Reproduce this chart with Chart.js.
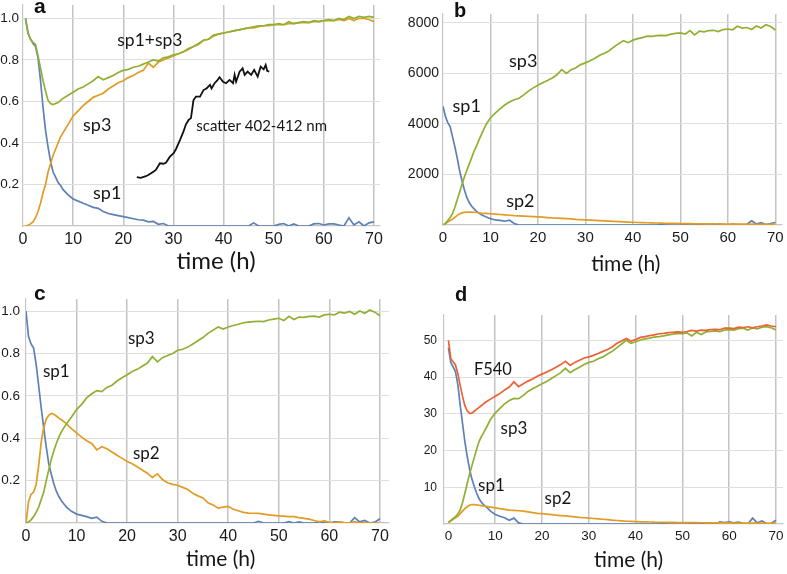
<!DOCTYPE html>
<html>
<head>
<meta charset="utf-8">
<script src="https://cdn.jsdelivr.net/npm/chart.js@4.4.1/dist/chart.umd.min.js"></script>
<style>
  body { margin: 0; background: #fff; }
  #page { position: relative; width: 787px; height: 574px; overflow: hidden; background: #fff; }
  #page canvas { position: absolute; }
  .tag { position: absolute; line-height: 1; font-family: "Liberation Sans", Arial, sans-serif; font-weight: bold; color: #111; }
</style>
</head>
<body>
<div id="page">
  <canvas id="chart-a" width="390" height="285" style="left:0;top:0"></canvas>
  <canvas id="chart-b" width="397" height="285" style="left:390px;top:0"></canvas>
  <canvas id="chart-c" width="390" height="289" style="left:0;top:285px"></canvas>
  <canvas id="chart-d" width="397" height="289" style="left:390px;top:285px"></canvas>
  <div class="tag" style="left:34px;top:-5px;font-size:21px">a</div>
  <div class="tag" style="left:454px;top:0;font-size:20px">b</div>
  <div class="tag" style="left:34px;top:282px;font-size:21px">c</div>
  <div class="tag" style="left:455px;top:284px;font-size:20px">d</div>
</div>
<script>
// sampling times (h): every 0.5 h up to 8 h, then hourly
const hours = [0, 0.5, 1, 1.5, 2, 2.5, 3, 3.5, 4, 4.5, 5, 5.5, 6, 6.5, 7, 7.5, 8,
  9, 10, 11, 12, 13, 14, 15, 16, 17, 18,
  19, 20, 21, 22, 23, 24, 25, 26, 27, 28,
  29, 30, 31, 32, 33, 34, 35, 36, 37, 38,
  39, 40, 41, 42, 43, 44, 45, 46, 47, 48,
  49, 50, 51, 52, 53, 54, 55, 56, 57, 58,
  59, 60, 61, 62, 63, 64, 65, 66, 67, 68,
  69, 70]

const timeTicks = [0, 10, 20, 30, 40, 50, 60, 70]
const fractionTicks = [0.2, 0.4, 0.6, 0.8, 1.0]
const countTicks = [2000, 4000, 6000, 8000]
const f540Ticks = [10, 20, 30, 40, 50]

// panel a
const aSum = [null, 1.0, 0.93, 0.90, 0.885, 0.875, 0.82, 0.76, 0.70, 0.65, 0.605, 0.59, 0.585, 0.59, 0.595, 0.605, 0.615,
  0.63, 0.645, 0.66, 0.67, 0.685, 0.70, 0.72, 0.705, 0.715, 0.725,
  0.74, 0.75, 0.755, 0.765, 0.77, 0.78, 0.79, 0.80, 0.795, 0.81,
  0.815, 0.825, 0.83, 0.84, 0.855, 0.865, 0.88, 0.895, 0.90, 0.92,
  0.925, 0.93, 0.935, 0.94, 0.945, 0.95, 0.955, 0.96, 0.965, 0.965,
  0.97, 0.97, 0.975, 0.97, 0.985, 0.975, 0.98, 0.985, 0.98, 0.99,
  0.985, 0.99, 0.995, 0.99, 1.0, 0.995, 1.01, 1.0, 1.01, 1.005,
  1.01, 1.005]
const aSp3 = [null, 0, 0.003, 0.01, 0.02, 0.04, 0.07, 0.11, 0.16, 0.2, 0.26, 0.3, 0.34, 0.37, 0.4, 0.43, 0.45,
  0.49, 0.53, 0.555, 0.58, 0.6, 0.62, 0.63, 0.64, 0.66, 0.675,
  0.69, 0.7, 0.715, 0.725, 0.74, 0.75, 0.785, 0.765, 0.79, 0.8,
  0.81, 0.82, 0.83, 0.84, 0.85, 0.865, 0.875, 0.895, 0.9, 0.915,
  0.925, 0.93, 0.935, 0.94, 0.945, 0.95, 0.955, 0.955, 0.96, 0.965,
  0.965, 0.97, 0.97, 0.97, 0.975, 0.975, 0.98, 0.98, 0.98, 0.985,
  0.985, 0.99, 0.99, 0.99, 0.995, 0.99, 1.0, 0.99, 1.0, 1.0,
  0.995, 0.985]
const aSp1 = [null, 1.0, 0.93, 0.9, 0.88, 0.865, 0.81, 0.7, 0.57, 0.46, 0.38, 0.31, 0.26, 0.235, 0.21, 0.195, 0.175,
  0.15, 0.13, 0.12, 0.11, 0.1, 0.09, 0.085, 0.07, 0.06, 0.055,
  0.05, 0.045, 0.04, 0.035, 0.03, 0.028, 0.02, 0.022, 0.008, 0.012,
  0, 0, 0, 0, 0, 0, 0, 0, 0, 0,
  0, 0, 0, 0, 0, 0, 0, 0.015, 0, 0,
  0, 0, 0.008, 0.012, 0, 0.01, 0, 0, 0, 0.01,
  0.012, 0.005, 0.01, 0.01, 0.005, 0, 0.04, 0.005, 0.02, 0,
  0.015, 0.02]
const scatterHours = [22.7, 23.5, 24.5, 25, 26, 26.5, 27.3, 28, 28.5, 29.3, 30, 30.5, 31.3, 32, 32.5, 33, 33.5,
  34, 34.5, 35.3, 36, 36.6, 37.3, 37.6, 38.2, 38.7, 39.2, 39.9, 40.5, 41.2, 41.9, 42.2, 42.5,
  43.2, 43.8, 44.2, 44.8, 45.5, 46.1, 46.8, 47.4, 48, 48.4, 48.7, 49.1]
const aScatter = [0.235, 0.232, 0.24, 0.246, 0.262, 0.27, 0.302, 0.3, 0.305, 0.334, 0.35, 0.37, 0.414, 0.455, 0.49, 0.51, 0.52,
  0.607, 0.623, 0.623, 0.655, 0.663, 0.68, 0.663, 0.688, 0.7, 0.717, 0.695, 0.688, 0.704, 0.688, 0.728, 0.695,
  0.744, 0.76, 0.728, 0.744, 0.728, 0.752, 0.72, 0.768, 0.755, 0.776, 0.748, 0.744]

// panel b
const bSp1 = [4700, 4300, 4050, 3900, 3500, 3100, 2650, 2150, 1750, 1400, 1100, 900, 750, 650, 550, 480, 420,
  330, 250, 200, 180, 150, 190, 60, 0, 0, 0,
  0, 0, 0, 0, 0, 0, 0, 0, 0, 0,
  0, 0, 0, 0, 0, 0, 0, 0, 0, 0,
  0, 0, 0, 0, 0, 0, 0, 20, 0, 0,
  0, 0, 20, 0, 0, 20, 0, 0, 0, 40,
  30, 0, 40, 20, 0, 30, 170, 40, 90, 20,
  60, 100]
const bSp2 = [0, 40, 120, 180, 230, 300, 380, 440, 480, 500, 510, 515, 510, 505, 495, 485, 475,
  460, 445, 430, 415, 400, 385, 370, 360, 350, 340,
  330, 320, 310, 295, 280, 270, 260, 250, 240, 225,
  215, 205, 195, 185, 175, 165, 155, 145, 135, 125,
  115, 108, 100, 95, 90, 85, 80, 75, 70, 66,
  62, 58, 55, 52, 50, 48, 46, 44, 42, 40,
  38, 36, 35, 34, 33, 32, 31, 30, 30, 29,
  28, 28]
const bSp3 = [0, 60, 180, 300, 450, 700, 1000, 1300, 1600, 1900, 2150, 2400, 2650, 2900, 3100, 3330, 3550,
  3950, 4250, 4430, 4600, 4750, 4870, 4960, 5020, 5150, 5300,
  5430, 5530, 5630, 5720, 5820, 5950, 6150, 6000, 6150, 6230,
  6350, 6420, 6500, 6600, 6720, 6800, 6900, 7050, 7180, 7300,
  7220, 7320, 7380, 7420, 7480, 7470, 7500, 7510, 7500, 7560,
  7590, 7610, 7560, 7700, 7530, 7680, 7650, 7700, 7710, 7660,
  7740, 7760, 7730, 7870, 7800, 7820, 7740, 7880, 7800, 7930,
  7860, 7720]

// panel c
const cSp1 = [1.0, 0.88, 0.845, 0.825, 0.75, 0.65, 0.545, 0.45, 0.36, 0.28, 0.23, 0.185, 0.15, 0.125, 0.105, 0.09, 0.075,
  0.055, 0.042, 0.036, 0.03, 0.022, 0.028, 0.008, 0, 0, 0,
  0, 0, 0, 0, 0, 0, 0, 0, 0, 0,
  0, 0, 0, 0, 0, 0, 0, 0, 0, 0,
  0, 0, 0, 0, 0, 0, 0, 0.008, 0, 0,
  0, 0, 0, 0.006, 0, 0.005, 0, 0, 0, 0.006,
  0, 0, 0.005, 0.004, 0, 0, 0.025, 0.005, 0.012, 0,
  0.004, 0.02]
const cSp2 = [0, 0.1, 0.135, 0.145, 0.18, 0.27, 0.38, 0.45, 0.49, 0.508, 0.517, 0.513, 0.505, 0.495, 0.487, 0.478, 0.468,
  0.445, 0.425, 0.405, 0.388, 0.375, 0.345, 0.36, 0.35, 0.335, 0.32,
  0.305, 0.29, 0.28, 0.265, 0.25, 0.235, 0.215, 0.232, 0.205, 0.19,
  0.182, 0.178, 0.168, 0.158, 0.14, 0.128, 0.118, 0.095, 0.085, 0.07,
  0.075, 0.078, 0.065, 0.058, 0.05, 0.047, 0.046, 0.045, 0.042, 0.038,
  0.036, 0.034, 0.032, 0.03, 0.03, 0.025, 0.022, 0.018, 0.012, 0.006,
  0.01, 0.003, 0, 0.005, 0.002, 0, 0.006, 0, 0.003, 0,
  0, 0]
const cSp3 = [0, 0.005, 0.015, 0.03, 0.05, 0.075, 0.11, 0.145, 0.2, 0.25, 0.3, 0.34, 0.375, 0.405, 0.43, 0.45, 0.467,
  0.5, 0.535, 0.56, 0.59, 0.61, 0.625, 0.62, 0.64, 0.65, 0.67,
  0.685, 0.7, 0.715, 0.725, 0.74, 0.755, 0.785, 0.76, 0.78, 0.79,
  0.8, 0.815, 0.82, 0.83, 0.845, 0.86, 0.875, 0.895, 0.91, 0.925,
  0.915, 0.925, 0.932, 0.938, 0.945, 0.948, 0.95, 0.952, 0.95, 0.958,
  0.962, 0.966, 0.955, 0.975, 0.96, 0.972, 0.97, 0.975, 0.976, 0.972,
  0.982, 0.985, 0.982, 0.995, 0.99, 0.998, 0.985, 1.0, 0.99, 1.005,
  0.995, 0.978]

// panel d
const dF540 = [50, 45, 44.2, 43.3, 41, 37.8, 34.8, 32.3, 30.8, 30.1, 30.2, 30.7, 31.2, 31.7, 32.2, 32.7, 33.2,
  34, 34.8, 35.5, 36.5, 37.3, 38.7, 37.4, 38.2, 38.9, 39.5,
  40.2, 40.8, 41.4, 42, 42.7, 43.4, 44.3, 43.2, 44, 44.6,
  45.2, 45.5, 45.9, 46.4, 47, 47.5, 48.2, 49.2, 49.8, 50.5,
  49.8, 50.2, 50.8, 51, 51.3, 51.5, 51.8, 51.9, 52.1, 52.2,
  52.3, 52.2, 52.4, 52.7, 52.5, 52.8, 52.7, 52.9, 53, 52.9,
  53.3, 53.3, 53.2, 53.6, 53.5, 53.7, 53.4, 53.7, 53.9, 54.2,
  53.9, 53.7]
const dSp3 = [0.5, 1, 1.5, 2, 2.7, 3.8, 5.8, 8.3, 11, 13.5, 15.8, 18, 20.3, 22.3, 23.7, 24.8, 26,
  28.5, 30.2, 31.5, 32.7, 33.6, 34.2, 34.1, 35, 36.1, 36.8,
  37.5, 38.2, 38.8, 39.6, 40.4, 41.2, 42.4, 41.2, 42, 42.7,
  43.4, 44, 44.3, 45, 45.5, 46.3, 47, 48, 49, 50,
  49.2, 49.6, 50.1, 50.4, 50.6, 50.9, 51, 51.2, 51.5, 51.7,
  51.9, 51.8, 52, 51.2, 52.2, 51.6, 52.3, 52.4, 52.6, 52.4,
  52.8, 52.9, 52.8, 53.2, 53.3, 52.8, 53.4, 53.1, 53.6, 53.7,
  53.4, 52.8]
const dSp1 = [48, 44, 42.8, 41.5, 38, 32.5, 27.5, 22.5, 18.5, 15, 12.3, 10.3, 8.5, 7, 6, 5.3, 4.7,
  3.5, 2.6, 2.1, 1.7, 1, 1.6, 0.3, 0, 0, 0,
  0, 0, 0, 0, 0, 0, 0, 0, 0, 0,
  0, 0, 0, 0, 0, 0, 0, 0, 0, 0,
  0, 0, 0, 0, 0, 0, 0, 0.2, 0, 0,
  0, 0, 0, 0.2, 0, 0.2, 0, 0, 0, 0.6,
  0.4, 0.6, 0.3, 0.5, 0.2, 0, 1.6, 0.3, 0.8, 0.1,
  0.2, 1]
const dSp2 = [0.3, 0.8, 1.3, 1.7, 2.1, 2.8, 3.5, 4.2, 4.7, 5.1, 5.3, 5.3, 5.2, 5.1, 5, 4.9, 4.8,
  4.6, 4.4, 4.2, 4, 3.8, 3.7, 3.6, 3.5, 3.3, 3.1,
  2.9, 2.8, 2.7, 2.55, 2.4, 2.3, 2.2, 2.1, 1.95, 1.8,
  1.7, 1.6, 1.5, 1.4, 1.3, 1.2, 1.05, 0.95, 0.85, 0.75,
  0.7, 0.65, 0.6, 0.58, 0.55, 0.5, 0.48, 0.45, 0.43, 0.42,
  0.4, 0.38, 0.37, 0.36, 0.35, 0.34, 0.33, 0.32, 0.31, 0.3,
  0.29, 0.28, 0.27, 0.26, 0.25, 0.24, 0.23, 0.22, 0.21, 0.2,
  0.2, 0.2]

const BLUE = '#5e81b5'
const ORANGE = '#e19c24'
const GREEN = '#8fb032'
const RED = '#eb6235'
const TICK_FONT = '"Liberation Sans", Arial, sans-serif'
const NOTE_FONT = 'Lato, "Open Sans", sans-serif'

// labels next to the curves and the x axis title
const notesPlugin = {
  id: 'notes',
  afterDatasetsDraw(chart, args, opts) {
    const { ctx, chartArea, scales: { x, y } } = chart
    ctx.save()
    ctx.fillStyle = '#161616'
    ctx.textAlign = 'center'
    ctx.textBaseline = 'middle'
    opts.items.forEach(n => {
      ctx.font = `${n.size}px ${NOTE_FONT}`
      ctx.fillText(n.text, x.getPixelForValue(n.t), y.getPixelForValue(n.v))
    })
    ctx.font = `${opts.titleSize}px ${NOTE_FONT}`
    ctx.fillText('time (h)', x.getPixelForValue(38.5), chartArea.bottom + opts.titleOffset)
    ctx.restore()
  }
}

function line(xs, ys, color, width) {
  return {
    data: xs.map((h, i) => ({ x: h, y: ys[i] })),
    borderColor: color,
    borderWidth: width || 1.7,
    pointRadius: 0,
    tension: 0,
    fill: false
  }
}

function makeChart(id, p) {
  return new Chart(document.getElementById(id), {
    type: 'line',
    data: { datasets: p.datasets },
    options: {
      responsive: false,
      animation: false,
      events: [],
      layout: { padding: p.padding },
      plugins: {
        legend: { display: false },
        tooltip: { enabled: false },
        notes: { items: p.notes, titleSize: p.titleSize, titleOffset: p.titleOffset }
      },
      scales: {
        x: {
          type: 'linear',
          min: p.xMin,
          max: p.xMax,
          afterBuildTicks: s => { s.ticks = timeTicks.map(v => ({ value: v })) },
          afterFit: s => { s.height = p.xHeight; s.paddingLeft = 0; s.paddingRight = 0 },
          ticks: { autoSkip: false, maxRotation: 0, padding: 4, color: '#1a1a1a',
            font: { family: TICK_FONT, size: p.xFont }, callback: v => String(v) },
          grid: { drawTicks: false, lineWidth: 1.5,
            color: c => (c.tick && c.tick.value === 0 ? 'rgba(0,0,0,0)' : '#c3c3c3') },
          border: { color: '#c6c6c6', width: 1.2 }
        },
        y: {
          min: 0,
          max: p.yMax,
          afterBuildTicks: s => { s.ticks = p.yTicks.map(v => ({ value: v })) },
          afterFit: s => { s.width = p.yWidth; s.paddingTop = 0; s.paddingBottom = 0 },
          ticks: { autoSkip: false, padding: p.yPad, color: '#1a1a1a',
            font: { family: TICK_FONT, size: p.yFont }, callback: p.yLabel },
          grid: { drawTicks: false, lineWidth: 1, color: '#dedede' },
          border: { color: '#c6c6c6', width: 1.2 }
        }
      }
    },
    plugins: [notesPlugin]
  })
}

makeChart('chart-a', {
  datasets: [
    line(scatterHours, aScatter, '#111111', 1.8),
    line(hours, aSum, GREEN),
    line(hours, aSp3, ORANGE),
    line(hours, aSp1, BLUE)
  ],
  padding: { left: 0, top: 5, right: 10, bottom: 0 },
  xMin: 0, xMax: 71.2, xHeight: 59, xFont: 16,
  yMax: 1.065, yTicks: fractionTicks, yWidth: 23, yPad: 4, yFont: 13.5,
  yLabel: v => v.toFixed(1),
  titleSize: 24, titleOffset: 35,
  notes: [
    { text: 'sp1+sp3', t: 25.3, v: 0.893, size: 17.5 },
    { text: 'sp3', t: 14.8, v: 0.487, size: 18 },
    { text: 'sp1', t: 16.8, v: 0.158, size: 18 },
    { text: 'scatter 402-412 nm', t: 47.6, v: 0.479, size: 15 }
  ]
})

makeChart('chart-b', {
  datasets: [
    line(hours, bSp3, GREEN),
    line(hours, bSp2, ORANGE),
    line(hours, bSp1, BLUE)
  ],
  padding: { left: 0, top: 14, right: 5, bottom: 0 },
  xMin: 0, xMax: 71.4, xHeight: 60, xFont: 15,
  yMax: 8355, yTicks: countTicks, yWidth: 53, yPad: 4, yFont: 14,
  yLabel: v => String(v),
  titleSize: 21, titleOffset: 39,
  notes: [
    { text: 'sp3', t: 16.9, v: 6469, size: 18 },
    { text: 'sp1', t: 5.0, v: 4690, size: 18 },
    { text: 'sp2', t: 16.3, v: 933, size: 18 }
  ]
})

makeChart('chart-c', {
  datasets: [
    line(hours, cSp3, GREEN),
    line(hours, cSp2, ORANGE),
    line(hours, cSp1, BLUE)
  ],
  padding: { left: 0, top: 14, right: 1, bottom: 0 },
  xMin: 0, xMax: 71.8, xHeight: 51, xFont: 16,
  yMax: 1.057, yTicks: fractionTicks, yWidth: 26, yPad: 6, yFont: 13.5,
  yLabel: v => v.toFixed(1),
  titleSize: 21, titleOffset: 36,
  notes: [
    { text: 'sp3', t: 22.8, v: 0.871, size: 17 },
    { text: 'sp1', t: 6.0, v: 0.713, size: 17 },
    { text: 'sp2', t: 23.8, v: 0.328, size: 17 }
  ]
})

makeChart('chart-d', {
  datasets: [
    line(hours, dF540, RED),
    line(hours, dSp3, GREEN),
    line(hours, dSp2, ORANGE),
    line(hours, dSp1, BLUE)
  ],
  padding: { left: 0, top: 30, right: 4, bottom: 0 },
  xMin: -0.95, xMax: 71.5, xHeight: 50, xFont: 13.5,
  yMax: 56.9, yTicks: f540Ticks, yWidth: 54, yPad: 7, yFont: 12,
  yLabel: v => String(v),
  titleSize: 21, titleOffset: 36,
  notes: [
    { text: 'F540', t: 9.5, v: 41.9, size: 16.5 },
    { text: 'sp3', t: 14.0, v: 26.0, size: 17 },
    { text: 'sp1', t: 9.2, v: 10.5, size: 17 },
    { text: 'sp2', t: 23.4, v: 6.9, size: 17 }
  ]
})
</script>
</body>
</html>
